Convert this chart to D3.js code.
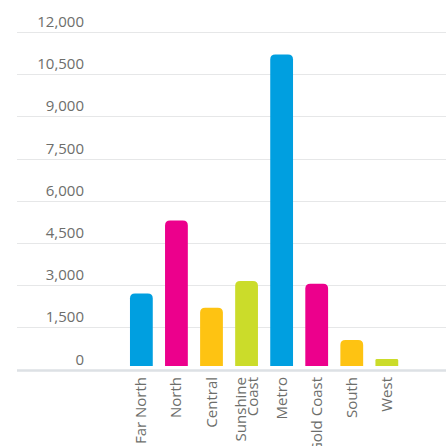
<!DOCTYPE html>
<html>
<head>
<meta charset="utf-8">
<script src="https://cdn.jsdelivr.net/npm/d3@7"></script>
<style>
html,body{margin:0;padding:0;background:#fff;overflow:hidden;}
svg{display:block;font-family:"Open Sans",sans-serif;}
</style>
</head>
<body>
<svg id="chart" width="446" height="446"></svg>
<script>
const categories = ["Far North","North","Central","Sunshine Coast","Metro","Gold Coast","South","West"];
const values = [2700, 5300, 2200, 3150, 11200, 3050, 1050, 370];
const barColors = ["#009fe0","#ec008c","#fec312","#cbdc2a","#009fe0","#ec008c","#fec312","#cbdc2a"];
const tickValues = [0,1500,3000,4500,6000,7500,9000,10500,12000];
const labelLines = [["Far North"],["North"],["Central"],["Sunshine","Coast"],["Metro"],["Gold Coast"],["South"],["West"]];

const svg = d3.select("#chart");
const y = d3.scaleLinear().domain([0,12000]).range([369.5,32]);
const x = d3.scaleBand().domain(categories).range([117.7,410.5]).paddingInner(0.35).paddingOuter(0.35);

// gridlines
svg.append("g").selectAll("line").data(tickValues.filter(d=>d>0)).join("line")
  .attr("x1",17).attr("x2",446)
  .attr("y1",d=>Math.round(y(d))+0.5).attr("y2",d=>Math.round(y(d))+0.5)
  .attr("stroke","#e6e7e8").attr("stroke-width",1);

// tick labels
svg.append("g").selectAll("text").data(tickValues).join("text")
  .attr("x",84).attr("y",d=>y(d)-5)
  .attr("text-anchor","end")
  .attr("font-size",15)
  .attr("fill","#6d6e6b")
  .text(d=>d3.format(",")(d));

// axis baseline
svg.append("line").attr("x1",17).attr("x2",446).attr("y1",370.5).attr("y2",370.5)
  .attr("stroke","#dde1e5").attr("stroke-width",2.5);

// bars
const base = y(0)-3.5;
function barPath(v,c){
  const x0 = x(c), w = x.bandwidth(), top = y(v), h = base-top;
  const r = Math.min(5, h/5);
  return `M${x0},${base}V${top+r}Q${x0},${top} ${x0+r},${top}H${x0+w-r}Q${x0+w},${top} ${x0+w},${top+r}V${base}Z`;
}
svg.append("g").selectAll("path").data(categories).join("path")
  .attr("d",(c,i)=>barPath(values[i],c))
  .attr("fill",(c,i)=>barColors[i]);

// category labels
const lab = svg.append("g").selectAll("text").data(categories).join("text")
  .attr("transform",c=>`translate(${x(c)+x.bandwidth()/2},377) rotate(-90)`)
  .attr("text-anchor","end")
  .attr("font-size",15)
  .attr("fill","#6d6e6b");
lab.each(function(c,i){
  const lines = labelLines[i];
  const t = d3.select(this);
  const off = lines.length===1 ? [5] : [-0.5, 11.2];
  lines.forEach((ln,k)=>{
    t.append("tspan").attr("x",0).attr("y",off[k]).text(ln);
  });
});
</script>
</body>
</html>
